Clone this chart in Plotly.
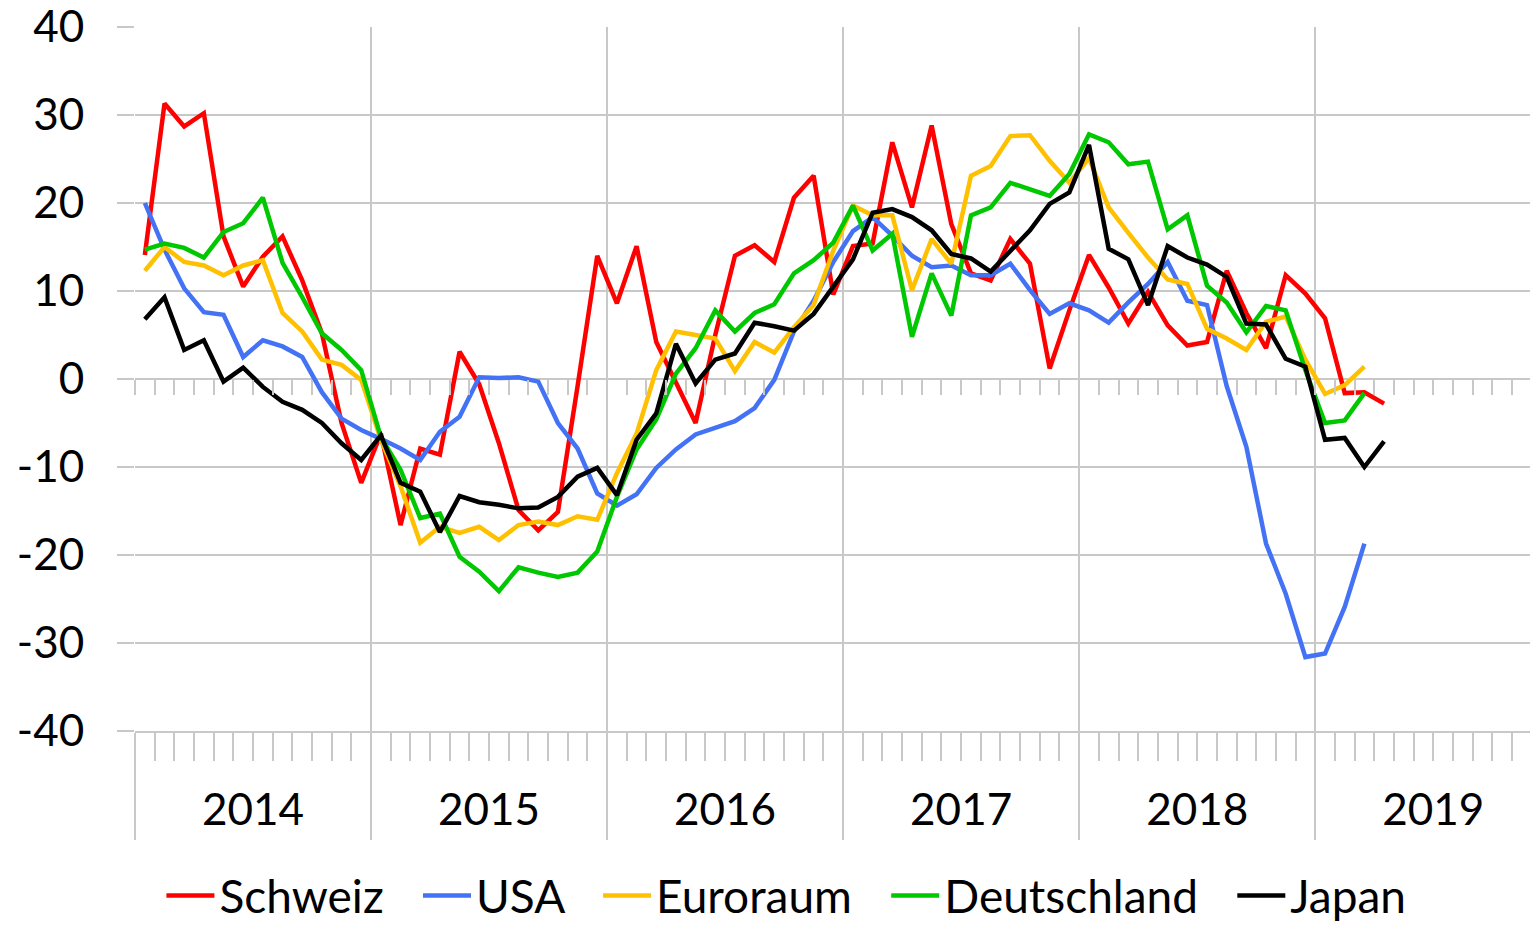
import numpy as np
import plotly.graph_objects as go

# monthly values, Jan 2014 onwards
years = [2014, 2015, 2016, 2017, 2018, 2019]
y_ticks = [-40, -30, -20, -10, 0, 10, 20, 30, 40]

schweiz = [14.1, 31.3, 28.7, 30.2, 16.2, 10.5, 13.9, 16.2, 11.2, 5.2, -5.0, -11.8,
           -6.2, -16.6, -7.9, -8.6, 3.1, -0.6, -7.3, -14.9, -17.2, -15.1, -0.8, 14.0,
           8.6, 15.1, 4.2, -0.5, -5.0, 5.0, 14.0, 15.2, 13.3, 20.6, 23.1, 9.6,
           15.1, 15.4, 26.9, 19.5, 28.8, 17.6, 12.0, 11.2, 15.9, 13.1, 1.2, 7.8,
           14.1, 10.4, 6.3, 9.9, 6.1, 3.8, 4.2, 12.3, 7.5, 3.5, 11.8, 9.7,
           6.9, -1.6, -1.5, -2.8]
usa = [20.0, 14.7, 10.3, 7.6, 7.3, 2.5, 4.4, 3.7, 2.5, -1.5, -4.5, -5.8,
       -6.8, -7.9, -9.2, -6.0, -4.3, 0.2, 0.1, 0.2, -0.3, -5.0, -7.9, -13.0,
       -14.4, -13.1, -10.1, -8.0, -6.3, -5.6, -4.8, -3.3, -0.1, 5.4, 8.9, 13.3,
       16.8, 18.4, 16.3, 14.0, 12.7, 12.9, 11.8, 11.8, 13.1, 10.1, 7.4, 8.6,
       7.8, 6.4, 8.7, 10.8, 13.3, 8.9, 8.4, -0.8, -7.7, -18.7, -24.4, -31.6,
       -31.2, -25.9, -18.7]
euroraum = [12.3, 15.0, 13.3, 12.9, 11.8, 12.9, 13.5, 7.5, 5.4, 2.2, 1.6, -0.1,
            -6.9, -12.2, -18.6, -16.8, -17.5, -16.8, -18.3, -16.6, -16.2, -16.6, -15.6, -16.0,
            -10.7, -6.2, 1.0, 5.4, 5.0, 4.6, 0.9, 4.2, 3.0, 5.9, 8.4, 14.6,
            19.7, 18.6, 18.6, 10.1, 15.9, 13.1, 23.1, 24.2, 27.6, 27.7, 24.8, 22.3,
            25.1, 19.5, 16.6, 13.8, 11.3, 10.8, 5.7, 4.6, 3.3, 6.5, 7.1, 2.2,
            -1.7, -0.7, 1.4]
deutschland = [14.7, 15.4, 14.9, 13.8, 16.7, 17.7, 20.6, 13.2, 9.3, 5.2, 3.3, 1.0,
               -6.6, -10.3, -15.8, -15.3, -20.2, -21.9, -24.1, -21.4, -22.0, -22.5, -22.0, -19.6,
               -13.4, -8.0, -4.6, 0.6, 3.5, 7.8, 5.4, 7.5, 8.5, 12.0, 13.5, 15.5,
               19.7, 14.6, 16.5, 4.8, 12.0, 7.2, 18.6, 19.5, 22.3, 21.6, 20.8, 23.3,
               27.8, 26.9, 24.4, 24.7, 17.0, 18.6, 10.6, 8.7, 5.3, 8.3, 7.8, 1.0,
               -5.0, -4.7, -1.6]
japan = [6.8, 9.3, 3.3, 4.4, -0.3, 1.3, -0.9, -2.6, -3.5, -5.0, -7.3, -9.2,
         -6.4, -11.8, -12.8, -17.4, -13.3, -14.0, -14.3, -14.7, -14.6, -13.4, -11.1, -10.1,
         -13.2, -6.9, -3.9, 4.0, -0.5, 2.2, 2.9, 6.4, 6.0, 5.5, 7.4, 10.4,
         13.6, 18.9, 19.3, 18.4, 16.9, 14.2, 13.7, 12.2, 14.6, 16.9, 19.9, 21.2,
         26.6, 14.8, 13.6, 8.4, 15.1, 13.8, 13.0, 11.6, 6.3, 6.2, 2.3, 1.4,
         -6.9, -6.7, -10.0, -7.1]

series = [("Schweiz", schweiz, "#ff0000"),
          ("USA", usa, "#4472f4"),
          ("Euroraum", euroraum, "#ffc000"),
          ("Deutschland", deutschland, "#00c800"),
          ("Japan", japan, "#000000")]

grid = "#c8c8c8"
font = dict(family="Lato", size=44, color="black")
legend_font = dict(family="Lato", size=46, color="black")
x_range = [0, 70.92]
pad = "\u00a0\u00a0\u2009"  # a bit more room between legend entries

fig = go.Figure()
for i, (name, vals, col) in enumerate(series):
    # one point per month, centred in its month slot
    x = np.arange(len(vals)) + 0.5
    label = name if i == len(series) - 1 else name + pad
    fig.add_trace(go.Scatter(x=x, y=vals, mode="lines", name=label,
                             line=dict(color=col, width=4.5)))

# empty helpers so the extra x axes get drawn
for ax in ["x2", "x3"]:
    fig.add_trace(go.Scatter(x=[1], y=[None], xaxis=ax, mode="lines",
                             showlegend=False, hoverinfo="skip"))

fig.update_layout(
    template="none",
    width=1530, height=932,
    margin=dict(l=135, r=0, t=27, b=201),
    plot_bgcolor="white", paper_bgcolor="white",
    font=font,
    showlegend=True,
    legend=dict(orientation="h", xref="container", yref="container",
                x=0.514, xanchor="center", y=-0.006, yanchor="bottom",
                font=legend_font, itemwidth=48, bgcolor="rgba(0,0,0,0)"),
    # year boundaries: gridlines + long ticks, month ticks at the bottom
    xaxis=dict(range=x_range, tickmode="array", tickvals=[12 * i for i in range(7)],
               showticklabels=False, ticks="outside", ticklen=107, tickwidth=2, tickcolor=grid,
               showgrid=True, gridcolor=grid, gridwidth=2, zeroline=False, automargin=False,
               showline=True, linecolor=grid, linewidth=2,
               minor=dict(dtick=1, tick0=0, ticks="outside", ticklen=28, tickwidth=2,
                          tickcolor=grid, showgrid=False)),
    # year labels centred in each year
    xaxis2=dict(range=x_range, overlaying="x", anchor="y", side="bottom",
                tickmode="array", tickvals=[12 * i + 6 for i in range(len(years))],
                ticktext=[str(y) for y in years], ticks="outside", ticklen=40,
                tickcolor="rgba(0,0,0,0)", showgrid=False, zeroline=False, showline=False,
                tickfont=font, automargin=False, ticklabeloverflow="allow"),
    # month ticks hanging from the zero line
    xaxis3=dict(range=x_range, overlaying="x", anchor="free", position=0.5, side="bottom",
                tickmode="array", tickvals=list(range(72)), showticklabels=False,
                ticks="outside", ticklen=15, tickwidth=2, tickcolor=grid,
                showgrid=False, zeroline=False, showline=False, automargin=False),
    yaxis=dict(range=[-40, 40], tickmode="array", tickvals=y_ticks,
               ticktext=[str(v) for v in y_ticks], ticks="outside", ticklen=17,
               tickwidth=2, tickcolor=grid, showgrid=True, gridcolor=grid, gridwidth=2,
               zeroline=False, showline=False, tickfont=font, ticklabelstandoff=24,
               ticklabeloverflow="allow", automargin=False),
)

fig.write_html("out.html", config={"displayModeBar": False},
               post_script="document.body.style.margin='0';document.body.style.overflow='hidden';")
